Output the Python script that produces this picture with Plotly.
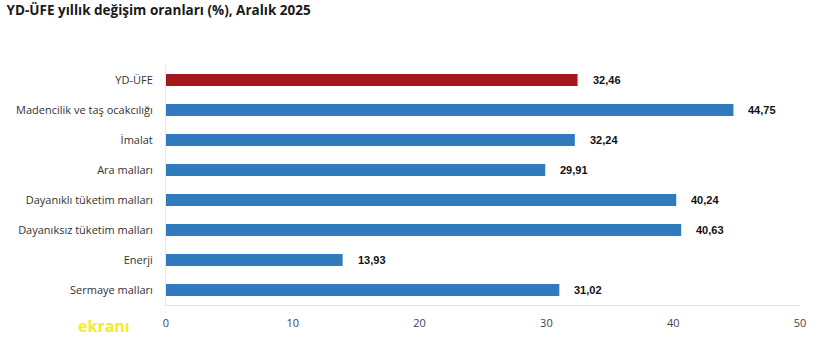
import plotly.graph_objects as go

categories = [
    "YD-ÜFE",
    "Madencilik ve taş ocakcılığı",
    "İmalat",
    "Ara malları",
    "Dayanıklı tüketim malları",
    "Dayanıksız tüketim malları",
    "Enerji",
    "Sermaye malları",
]
values = [32.46, 44.75, 32.24, 29.91, 40.24, 40.63, 13.93, 31.02]
tick_vals = [0, 10, 20, 30, 40, 50]

colors = ["#A8161D"] + ["#2F7BBE"] * (len(categories) - 1)
labels = [f"{v:.2f}".replace(".", ",") for v in values]

fig = go.Figure(
    go.Bar(
        x=values,
        y=categories,
        orientation="h",
        marker=dict(color=colors, line=dict(width=0)),
        width=0.4,
        hoverinfo="x+y",
    )
)

# value labels to the right of each bar
for cat, v, lab in zip(categories, values, labels):
    fig.add_annotation(
        x=v, y=cat, xref="x", yref="y",
        xanchor="left", yanchor="middle",
        xshift=13,
        text=f"<b>{lab}</b>",
        showarrow=False,
        font=dict(family="Liberation Sans, Arial", size=11, color="#111111"),
    )

fig.update_layout(
    width=820,
    height=342,
    margin=dict(l=166, r=20, t=65, b=35),
    paper_bgcolor="white",
    plot_bgcolor="white",
    showlegend=False,
    font=dict(family="Open Sans, Noto Sans, sans-serif", size=11, color="#333333"),
    title=dict(
        text="<b>YD-ÜFE yıllık değişim oranları (%), Aralık 2025</b>",
        x=0.008,
        xanchor="left",
        y=0.985,
        yanchor="top",
        font=dict(family="Open Sans, Noto Sans, sans-serif", size=13.5, color="#1a1a1a"),
    ),
)

fig.update_xaxes(
    range=[0, 50],
    tickvals=tick_vals,
    ticktext=[str(t) for t in tick_vals],
    showgrid=False,
    zeroline=False,
    showline=True,
    linecolor="#E3E3E3",
    linewidth=1,
    ticks="",
    ticklabelstandoff=8,
    tickfont=dict(family="Open Sans, Noto Sans, sans-serif", size=11, color="#444444"),
)
fig.update_yaxes(
    categoryorder="array",
    categoryarray=categories[::-1],
    showgrid=False,
    showline=True,
    linecolor="#EDE6DC",
    linewidth=1,
    ticks="",
    ticklabelstandoff=10,
    tickfont=dict(family="Open Sans, Noto Sans, sans-serif", size=11, color="#333333"),
)

# watermark logo text in the lower-left corner
fig.add_annotation(
    x=-0.142, y=-0.088, xref="paper", yref="paper",
    xanchor="left", yanchor="middle",
    text="<b>ekranı</b>",
    showarrow=False,
    font=dict(family="Open Sans, sans-serif", size=16, color="#F2EE1F"),
)

fig.write_html("out.html")
